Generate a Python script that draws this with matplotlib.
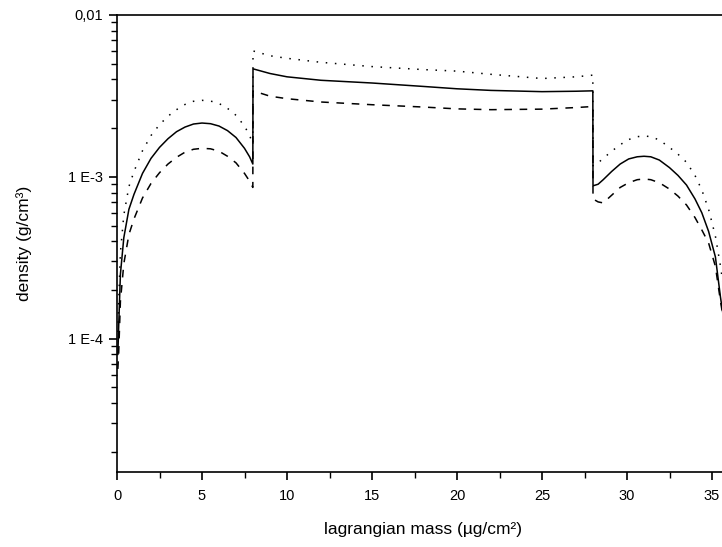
import matplotlib
matplotlib.use("Agg")
import matplotlib.pyplot as plt
from matplotlib.ticker import FixedLocator, FixedFormatter, LogLocator, NullFormatter

plt.rcParams['font.family'] = ['Liberation Sans', 'DejaVu Sans']

# ---- data ----
x_seg1 = [0.05, 0.1, 0.2, 0.4, 0.7, 1.0, 1.5, 2.0, 2.5, 3.0, 3.5, 4.0, 4.5, 5.0, 5.5, 6.0, 6.5, 7.0, 7.5, 7.8, 7.99]
solid_seg1 = [8.0e-5, 1.2e-4, 2.5e-4, 4.2e-4, 6.3e-4, 7.8e-4, 1.05e-3, 1.3e-3, 1.52e-3, 1.72e-3, 1.9e-3, 2.03e-3, 2.12e-3, 2.15e-3, 2.13e-3, 2.06e-3, 1.93e-3, 1.75e-3, 1.5e-3, 1.33e-3, 1.2e-3]
dotted_seg1 = [1.1e-4, 1.7e-4, 3.4e-4, 5.8e-4, 8.7e-4, 1.08e-3, 1.45e-3, 1.8e-3, 2.1e-3, 2.37e-3, 2.6e-3, 2.8e-3, 2.93e-3, 2.97e-3, 2.94e-3, 2.84e-3, 2.65e-3, 2.4e-3, 2.06e-3, 1.8e-3, 1.6e-3]
dashed_seg1 = [6.5e-5, 8.2e-5, 1.7e-4, 2.9e-4, 4.4e-4, 5.5e-4, 7.4e-4, 9.1e-4, 1.06e-3, 1.2e-3, 1.32e-3, 1.42e-3, 1.48e-3, 1.5e-3, 1.49e-3, 1.44e-3, 1.34e-3, 1.22e-3, 1.05e-3, 9.4e-4, 8.6e-4]

x_seg2 = [8.0, 9.0, 10.0, 12.0, 15.0, 18.0, 20.0, 22.0, 25.0, 27.0, 27.99]
solid_seg2 = [4.65e-3, 4.35e-3, 4.15e-3, 3.95e-3, 3.8e-3, 3.62e-3, 3.5e-3, 3.42e-3, 3.36e-3, 3.38e-3, 3.4e-3]
dotted_seg2 = [6.0e-3, 5.6e-3, 5.4e-3, 5.1e-3, 4.8e-3, 4.6e-3, 4.5e-3, 4.3e-3, 4.05e-3, 4.15e-3, 4.25e-3]
dashed_seg2 = [3.4e-3, 3.15e-3, 3.04e-3, 2.9e-3, 2.79e-3, 2.7e-3, 2.63e-3, 2.6e-3, 2.62e-3, 2.68e-3, 2.72e-3]

x_seg3 = [28.0, 28.3, 28.6, 29.1, 29.6, 30.1, 30.6, 31.0, 31.4, 31.9, 32.5, 33.0, 33.5, 34.0, 34.4, 34.8, 35.2, 35.5, 35.8]
solid_seg3 = [8.8e-4, 9.0e-4, 9.6e-4, 1.08e-3, 1.2e-3, 1.29e-3, 1.33e-3, 1.34e-3, 1.33e-3, 1.27e-3, 1.14e-3, 1.02e-3, 8.9e-4, 7.3e-4, 6.0e-4, 4.6e-4, 3.2e-4, 1.8e-4, 1.1e-4]
dotted_seg3 = [1.17e-3, 1.22e-3, 1.3e-3, 1.44e-3, 1.58e-3, 1.7e-3, 1.77e-3, 1.79e-3, 1.77e-3, 1.69e-3, 1.52e-3, 1.38e-3, 1.23e-3, 1.02e-3, 8.3e-4, 6.3e-4, 4.3e-4, 2.8e-4, 1.7e-4]
dashed_seg3 = [7.3e-4, 7.0e-4, 6.9e-4, 7.7e-4, 8.6e-4, 9.2e-4, 9.6e-4, 9.7e-4, 9.6e-4, 9.2e-4, 8.4e-4, 7.6e-4, 6.7e-4, 5.6e-4, 4.7e-4, 3.9e-4, 2.8e-4, 1.7e-4, 1.1e-4]

x_ticks = [0, 5, 10, 15, 20, 25, 30, 35]
y_ticks = [1e-4, 1e-3, 1e-2]
y_ticklabels = ["1 E-4", "1 E-3", "0,01"]

# ---- figure ----
fig = plt.figure(figsize=(7.22, 5.47), dpi=100)
ax = fig.add_axes([117/722, 75/547, 612/722, 457/547])

xs = x_seg1 + x_seg2 + x_seg3
ax.plot(xs, solid_seg1 + solid_seg2 + solid_seg3, color='black', lw=1.1, ls='-')
ax.plot(xs, dotted_seg1 + dotted_seg2 + dotted_seg3, color='black', lw=1.1, ls=(0, (1, 5)))
ax.plot(xs, dashed_seg1 + dashed_seg2 + dashed_seg3, color='black', lw=1.1, ls=(0, (5, 5)))

ax.set_yscale('log')
ax.set_xlim(0, 36)
ax.set_ylim(1.5e-5, 1e-2)

ax.xaxis.set_major_locator(FixedLocator(x_ticks))
ax.xaxis.set_minor_locator(FixedLocator([2.5, 7.5, 12.5, 17.5, 22.5, 27.5, 32.5]))
ax.yaxis.set_major_locator(FixedLocator(y_ticks))
ax.yaxis.set_major_formatter(FixedFormatter(y_ticklabels))
ax.yaxis.set_minor_locator(LogLocator(base=10, subs=[2, 3, 4, 5, 6, 7, 8, 9]))
ax.yaxis.set_minor_formatter(NullFormatter())

ax.tick_params(axis='both', which='major', direction='out', length=6, width=1.2, labelsize=10.5, pad=4)
ax.tick_params(axis='both', which='minor', direction='out', length=4, width=1.0)
ax.tick_params(axis='x', which='major', pad=6)

for s in ['left', 'bottom', 'top']:
    ax.spines[s].set_linewidth(1.2)
ax.spines['right'].set_visible(False)

ax.set_xlabel("lagrangian mass (µg/cm²)", fontsize=12.5, labelpad=14)
ax.set_ylabel("density (g/cm³)", fontsize=12.5, labelpad=26)

fig.savefig("out.png", dpi=100)
